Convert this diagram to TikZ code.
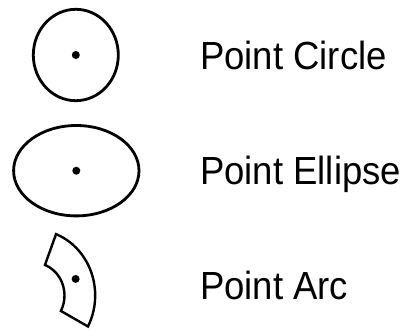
\documentclass[tikz,border=0pt]{standalone}
\usepackage{fontspec}
\setmainfont{Liberation Sans}
\usetikzlibrary{shapes.geometric}

\newcommand{\talltext}[1]{\scalebox{1}[1.075]{#1}}

\begin{document}
\begin{tikzpicture}[
        x=1pt, y=-1pt,
        % Styles
        outline/.style={draw=black, line width=2.8pt, ellipse, inner sep=0pt},
        pointdot/.style={fill=black, circle, inner sep=0pt, minimum size=8pt},
        lbl/.style={anchor=base west, inner sep=0pt, font=\fontsize{36.5}{40}\selectfont}
    ]
    \useasboundingbox (0,0) rectangle (406,331);

    % Shapes (left column)
    \node[outline, minimum width=85pt, minimum height=91.4pt] (circ) at (75.8,55) {};
    \node[pointdot] (circdot) at (circ.center) {};

    \node[outline, minimum width=125.4pt, minimum height=90.4pt] (ell) at (76.3,170.7) {};
    \node[pointdot] (elldot) at (ell.center) {};

    \begin{scope}[shift={(34,295.5)}, yscale=1.075]
        \draw[line width=2.4pt, line join=miter] (-68.9:61.2) arc[start angle=-68.9, end angle=28.1, radius=61.2]
            -- (28.1:30.5) arc[start angle=28.1, end angle=-68.9, radius=30.5] -- cycle;
        \coordinate (arcmid) at (-20.3:44.4);
    \end{scope}
    \node[pointdot] (arcdot) at (arcmid) {};

    % Labels (right column)
    \node[lbl] (lcirc) at (200,69.3) {\talltext{Point Circle}};
    \node[lbl] (lell) at (200,184.3) {\talltext{Point Ellipse}};
    \node[lbl] (larc) at (200,299) {\talltext{Point Arc}};

\end{tikzpicture}
\end{document}
